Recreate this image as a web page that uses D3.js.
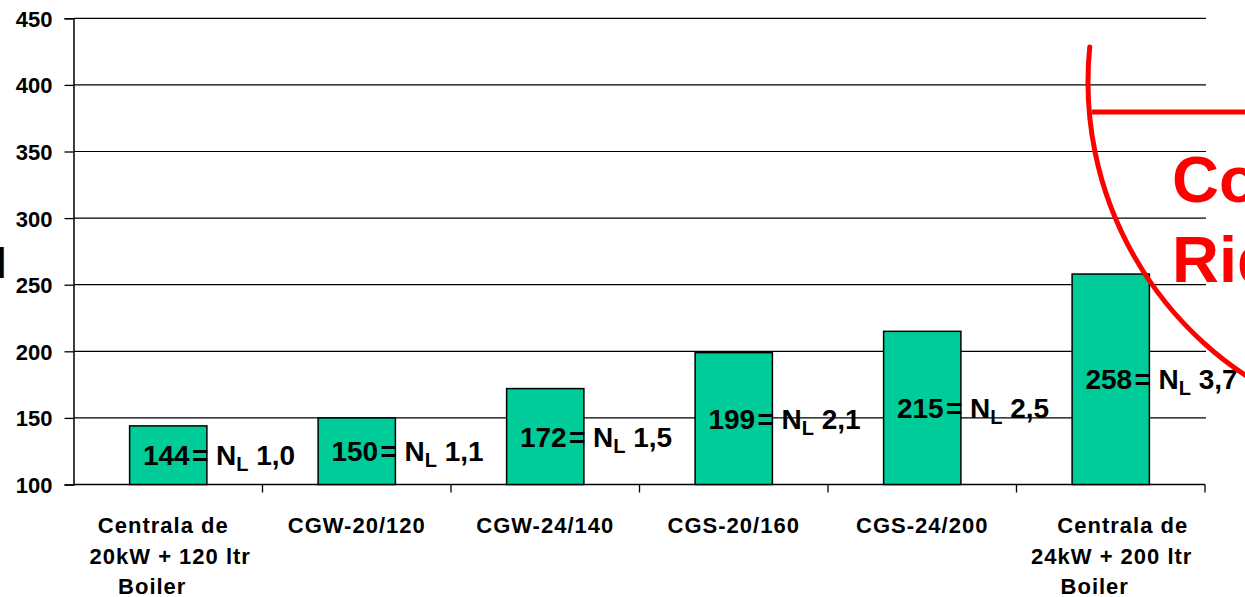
<!DOCTYPE html>
<html>
<head>
<meta charset="utf-8">
<script src="https://cdn.jsdelivr.net/npm/d3@7"></script>
<style>
    body { margin: 0; background: #fff; }
    svg { display: block; font-family: 'Liberation Sans', Arial, sans-serif; font-weight: bold; }
</style>
</head>
<body>
<svg width="1245" height="597"></svg>
<script>
var categories = [
    ['Centrala de', '20kW + 120 ltr', 'Boiler'],
    ['CGW-20/120'],
    ['CGW-24/140'],
    ['CGS-20/160'],
    ['CGS-24/200'],
    ['Centrala de', '24kW + 200 ltr', 'Boiler']
]
var values = [144, 150, 172, 199, 215, 258]
var nlValues = ['1,0', '1,1', '1,5', '2,1', '2,5', '3,7']
var yTicks = [100, 150, 200, 250, 300, 350, 400, 450]
var noteLines = ['Co', 'Rid']

var svg = d3.select('svg')

var xScale = d3.scaleBand()
    .domain(d3.range(values.length))
    .range([74, 1205])
    .paddingInner(0.59)
    .paddingOuter(0.295)

var yScale = d3.scaleLinear()
    .domain([100, 450])
    .range([484.5, 18.3])

// grid lines
svg.append('g')
    .selectAll('line')
    .data(yTicks.slice(1))
    .enter()
    .append('line')
    .attr('x1', 74)
    .attr('x2', 1206)
    .attr('y1', (d) => yScale(d))
    .attr('y2', (d) => yScale(d))
    .attr('stroke', '#000')
    .attr('stroke-width', 1.2)

var yAxis = d3.axisLeft()
    .scale(yScale)
    .tickValues(yTicks)
    .tickSize(9)
    .tickPadding(12)

var yG = svg.append('g')
    .attr('transform', 'translate(' + 73.5 + ',' + 0 + ')')
    .call(yAxis)
yG.select('.domain').attr('stroke-width', 1.5)
yG.selectAll('.tick line').attr('stroke-width', 1.3)
yG.selectAll('.tick text')
    .attr('font-size', 22)
    .attr('font-family', null)
    .attr('fill', '#000')
    .attr('dy', '0.36em')

// x axis: line plus ticks at category boundaries
var step = xScale.step()
var xStart = xScale(0) - xScale.paddingOuter() * step
svg.append('line')
    .attr('x1', 73.5)
    .attr('x2', 1205)
    .attr('y1', yScale(100))
    .attr('y2', yScale(100))
    .attr('stroke', '#000')
    .attr('stroke-width', 1.5)
svg.append('g')
    .selectAll('line')
    .data(d3.range(1, values.length + 1))
    .enter()
    .append('line')
    .attr('x1', (d) => xStart + d * step)
    .attr('x2', (d) => xStart + d * step)
    .attr('y1', yScale(100))
    .attr('y2', yScale(100) + 8)
    .attr('stroke', '#000')
    .attr('stroke-width', 1.3)

// category labels (line nudges copy the uneven wrapping of the original)
var lineNudge = [[-5, 2, -16], [0], [0], [0], [0], [12, 1, -16]]
svg.append('g')
    .selectAll('text')
    .data(categories)
    .enter()
    .append('text')
    .attr('text-anchor', 'middle')
    .attr('font-size', 22)
    .attr('letter-spacing', 1)
    .each(function(d, i) {
        var cx = xScale(i) + xScale.bandwidth() / 2
        d3.select(this).selectAll('tspan')
            .data(d)
            .enter()
            .append('tspan')
            .attr('x', (t, j) => cx + lineNudge[i][j])
            .attr('y', (t, j) => 533 + j * 30.5)
            .text((t) => t)
    })

// bars
svg.append('g')
    .selectAll('rect')
    .data(values)
    .enter()
    .append('rect')
    .attr('x', (d, i) => xScale(i))
    .attr('y', (d) => yScale(d))
    .attr('width', xScale.bandwidth())
    .attr('height', (d) => yScale(100) - yScale(d))
    .attr('fill', '#00CC99')
    .attr('stroke', '#000')
    .attr('stroke-width', 1.5)

// value labels
var labels = svg.append('g')
    .selectAll('g')
    .data(values)
    .enter()
    .append('g')
    .attr('transform', (d) => 'translate(0,' + ((yScale(d) + yScale(100)) / 2 + 10) + ')')
labels.append('text')
    .attr('x', (d, i) => xScale(i) + xScale.bandwidth() / 2 - 2)
    .attr('text-anchor', 'middle')
    .attr('font-size', 28)
    .text((d) => d)
var nl = labels.append('text')
    .attr('x', (d, i) => xScale(i) + xScale.bandwidth() - 15)
    .attr('font-size', 28)
nl.append('tspan').text('= N')
nl.append('tspan').attr('font-size', 20).attr('dy', 6).text('L')
nl.append('tspan').attr('dy', -6).text((d, i) => ' ' + nlValues[i])

// cut-off title letter on the left
svg.append('text')
    .attr('x', -5)
    .attr('y', 278)
    .attr('font-size', 42)
    .text('l')

// red annotation
var arcPath = d3.path()
arcPath.arc(1440, 82, 352, Math.PI * 185.7 / 180, Math.PI * 115 / 180, true)
svg.append('path')
    .attr('d', arcPath.toString())
    .attr('fill', 'none')
    .attr('stroke', '#FF0000')
    .attr('stroke-width', 5)
    .attr('stroke-linecap', 'round')
svg.append('line')
    .attr('x1', 1092)
    .attr('x2', 1250)
    .attr('y1', 112)
    .attr('y2', 112)
    .attr('stroke', '#FF0000')
    .attr('stroke-width', 5)
svg.append('g')
    .selectAll('text')
    .data(noteLines)
    .enter()
    .append('text')
    .attr('x', 1172)
    .attr('y', (d, i) => 202 + i * 80)
    .attr('font-size', 65)
    .attr('fill', '#FF0000')
    .text((d) => d)
</script>
</body>
</html>
